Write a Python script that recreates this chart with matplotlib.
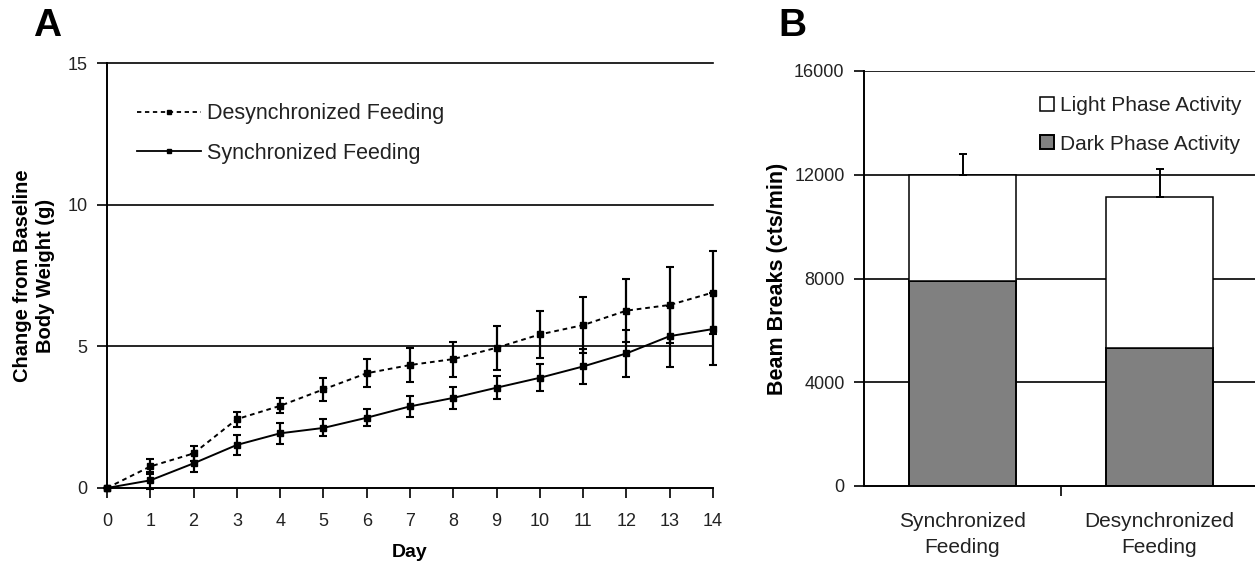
import matplotlib
matplotlib.use("Agg")
import matplotlib.pyplot as plt
from matplotlib.lines import Line2D
import numpy as np

plt.rcParams['font.family'] = ['Liberation Sans', 'DejaVu Sans']

# ---- Panel A data ----
days = list(range(15))
desync_mean = [0.0, 0.76, 1.22, 2.43, 2.90, 3.48, 4.05, 4.34, 4.55, 4.95, 5.42, 5.75, 6.26, 6.46, 6.90]
desync_err = [0.0, 0.27, 0.26, 0.27, 0.26, 0.40, 0.50, 0.60, 0.62, 0.78, 0.83, 0.99, 1.10, 1.33, 1.46]
sync_mean = [0.0, 0.27, 0.87, 1.52, 1.93, 2.12, 2.48, 2.88, 3.18, 3.54, 3.89, 4.29, 4.75, 5.36, 5.61]
sync_err = [0.0, 0.30, 0.32, 0.34, 0.37, 0.30, 0.30, 0.37, 0.39, 0.40, 0.48, 0.63, 0.82, 1.08, 1.28]
a_yticks = [0, 5, 10, 15]

# ---- Panel B data ----
groups = ["Synchronized\nFeeding", "Desynchronized\nFeeding"]
dark_activity = [7920, 5320]
light_activity = [4070, 5830]
total_err = [800, 1060]
b_yticks = [0, 4000, 8000, 12000, 16000]

TXT = '#222222'
DASH = (0, (2.4, 2.0))

fig = plt.figure(figsize=(12.55, 5.67), dpi=100)

# ---------------- Panel A ----------------
axA = fig.add_axes([107/1255, 1-488/567, 606/1255, 425/567])
for y in a_yticks[1:]:
    axA.axhline(y, color='black', lw=1.2, zorder=1, clip_on=False)
conts = []
conts.append(axA.errorbar(days, desync_mean, yerr=desync_err, color='black', lw=1.4,
             ls=DASH, marker='s', ms=4, capsize=3.2, elinewidth=1.6,
             capthick=1.5, zorder=3))
conts.append(axA.errorbar(days, sync_mean, yerr=sync_err, color='black', lw=1.4,
             ls='-', marker='s', ms=4, capsize=3.2, elinewidth=1.6,
             capthick=1.5, zorder=3))
for c in conts:
    for art in c.get_children():
        art.set_clip_on(False)
axA.set_xlim(0, 14)
axA.set_ylim(0, 15)
axA.set_xticks(days)
axA.set_yticks(a_yticks)
axA.tick_params(direction='out', length=7, width=1.2, labelsize=13, labelcolor=TXT)
axA.tick_params(axis='y', pad=7)
axA.tick_params(axis='x', pad=11)
for s in ['top', 'right']:
    axA.spines[s].set_visible(False)
for s in ['left', 'bottom']:
    axA.spines[s].set_linewidth(1.4)
axA.set_xlabel('Day', fontsize=14, fontweight='bold', labelpad=10)
axA.set_ylabel('Change from Baseline\nBody Weight (g)', fontsize=14.5,
               fontweight='bold', labelpad=9, linespacing=1.25)
hA = [Line2D([], [], color='black', lw=1.3, ls=DASH, marker='s', ms=3.5),
      Line2D([], [], color='black', lw=1.3, ls='-', marker='s', ms=3.5)]
leg = axA.legend(hA, ['Desynchronized Feeding', 'Synchronized Feeding'],
                 loc='upper left', bbox_to_anchor=(0.035, 0.925), numpoints=1,
                 frameon=False, fontsize=15.5, handlelength=3.0, handletextpad=0.25,
                 labelspacing=0.85, borderaxespad=0)
for t in leg.get_texts():
    t.set_color(TXT)
fig.text(33/1255, 1-26/567, 'A', fontsize=28, fontweight='bold', ha='left', va='center')

# ---------------- Panel B ----------------
axB = fig.add_axes([864/1255, 1-486/567, 394/1255, 415/567])
for y in b_yticks[1:]:
    axB.axhline(y, color='black', lw=1.2, zorder=1)
x = np.arange(len(groups))
w = 0.545
axB.bar(x, dark_activity, width=w, color='#808080', edgecolor='black', lw=1.4,
        zorder=2, label='Dark Phase Activity')
totals = [d + l for d, l in zip(dark_activity, light_activity)]
axB.bar(x, light_activity, bottom=dark_activity, width=w, color='white',
        edgecolor='black', lw=1.1, zorder=2, label='Light Phase Activity')
axB.errorbar(x, totals, yerr=[np.zeros(len(x)), total_err], fmt='none',
             ecolor='black', elinewidth=1.4, capsize=3.2, capthick=1.4, zorder=3)
axB.set_xlim(-0.5, 1.5)
axB.set_ylim(0, 16000)
axB.set_yticks(b_yticks)
axB.set_xticks([0.5])
axB.set_xticklabels([''])
for xi, g in zip(x, groups):
    axB.text(xi, -1000, g, ha='center', va='top', fontsize=15, color=TXT,
             linespacing=1.5)
axB.tick_params(direction='out', length=7, width=1.2, labelsize=13, labelcolor=TXT)
axB.tick_params(axis='y', pad=7)
for s in ['top', 'right']:
    axB.spines[s].set_visible(False)
for s in ['left', 'bottom']:
    axB.spines[s].set_linewidth(1.4)
axB.set_ylabel('Beam Breaks (cts/min)', fontsize=15.5, fontweight='bold', labelpad=4)
hb, lb = axB.get_legend_handles_labels()
legB = axB.legend([hb[1], hb[0]], [lb[1], lb[0]], loc='upper right',
                  bbox_to_anchor=(0.98, 0.96), frameon=False, fontsize=15,
                  handlelength=0.65, handleheight=0.65, handletextpad=0.3,
                  labelspacing=0.95, borderaxespad=0)
for t in legB.get_texts():
    t.set_color(TXT)
fig.text(778/1255, 1-26/567, 'B', fontsize=28, fontweight='bold', ha='left', va='center')

fig.savefig('out.png', dpi=100)
